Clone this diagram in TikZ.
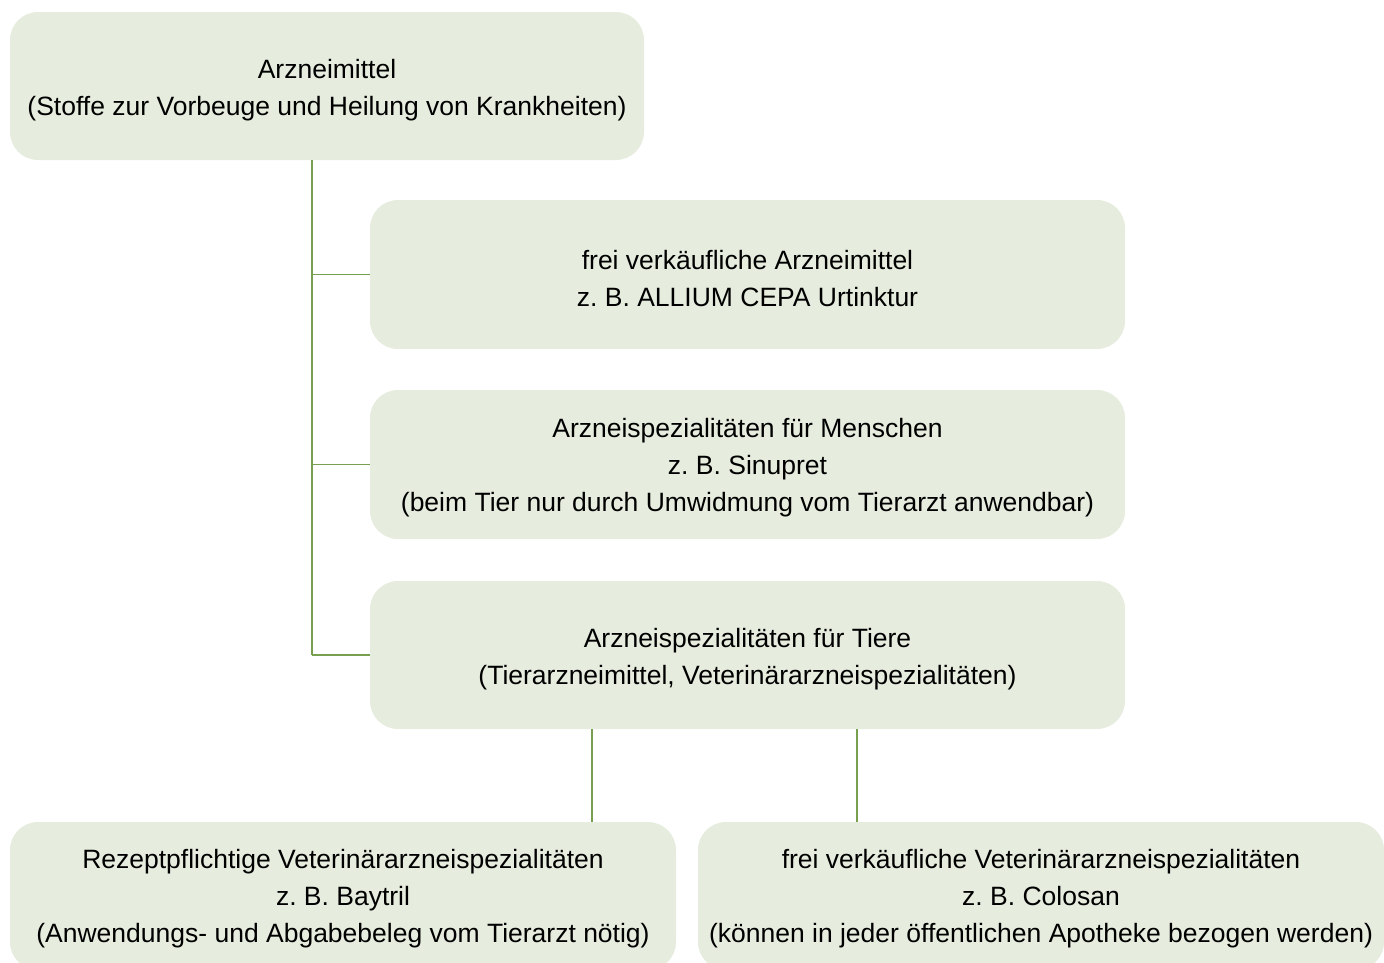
\documentclass[tikz,border=0pt]{standalone}
\usepackage{fontspec}
\setmainfont{Liberation Sans}
\frenchspacing
\definecolor{boxfill}{HTML}{E6ECDE}
\definecolor{linegreen}{HTML}{76A04E}
\begin{document}
\begin{tikzpicture}[x=1pt,y=-1pt,
  box/.style={rectangle, rounded corners=28pt, fill=boxfill, draw=none, inner sep=0pt},
  txt/.style={inner sep=0pt, align=center, font=\fontsize{26.5}{37}\selectfont\frenchspacing, text=black},
  conn/.style={draw=linegreen, line width=1.5pt}]
\clip (0,0) rectangle (1384,962);
\useasboundingbox (0,0) rectangle (1384,962);
\node[box, minimum width=634pt, minimum height=148pt] (a) at (327,86) {};
\node[box, minimum width=755pt, minimum height=149pt] (b) at (747.5,274.5) {};
\node[box, minimum width=755pt, minimum height=149pt] (c) at (747.5,464.5) {};
\node[box, minimum width=755pt, minimum height=148pt] (d) at (747.5,655) {};
\node[box, minimum width=666pt, minimum height=148pt] (e) at (343,896) {};
\node[box, minimum width=686pt, minimum height=148pt] (f) at (1041,896) {};
\node[txt] (at) at ([yshift=-4pt]a.center)
  {Arzneimittel\\(Stoffe zur Vorbeuge und Heilung von Krankheiten)};
\node[txt] (bt) at ([yshift=-4pt]b.center)
  {frei verkäufliche Arzneimittel\\z. B. ALLIUM CEPA Urtinktur};
\node[txt] (ct) at ([yshift=-3pt]c.center)
  {Arzneispezialitäten für Menschen\\z. B. Sinupret\\(beim Tier nur durch Umwidmung vom Tierarzt anwendbar)};
\node[txt] (dt) at ([yshift=-4pt]d.center)
  {Arzneispezialitäten für Tiere\\(Tierarzneimittel, Veterinärarzneispezialitäten)};
\node[txt] (et) at ([yshift=-3pt]e.center)
  {Rezeptpflichtige Veterinärarzneispezialitäten\\z. B. Baytril\\(Anwendungs- und Abgabebeleg vom Tierarzt nötig)};
\node[txt] (ft) at ([yshift=-3pt]f.center)
  {frei verkäufliche Veterinärarzneispezialitäten\\z. B. Colosan\\(können in jeder öffentlichen Apotheke bezogen werden)};
\coordinate (trunk) at (312,0);
\coordinate (le) at (592,0);
\coordinate (ri) at (857,0);
\draw[conn] (a.south -| trunk) -- (trunk |- d.west);
\draw[conn] (trunk |- b.west) -- (b.west);
\draw[conn] (trunk |- c.west) -- (c.west);
\draw[conn] (trunk |- d.west) -- (d.west);
\draw[conn] (d.south -| le) -- (e.north -| le);
\draw[conn] (d.south -| ri) -- (f.north -| ri);
\end{tikzpicture}
\end{document}
